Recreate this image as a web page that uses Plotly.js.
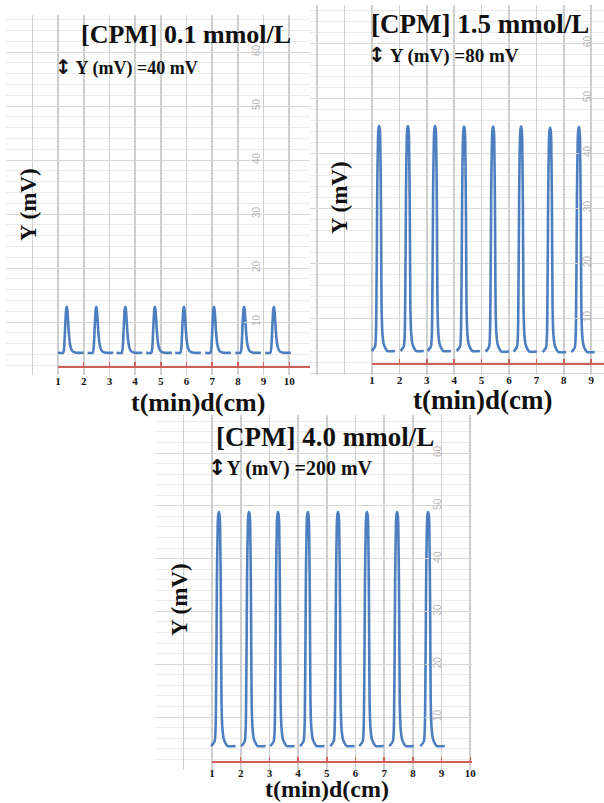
<!DOCTYPE html>
<html>
<head>
<meta charset="utf-8">
<script src="https://cdn.plot.ly/plotly-3.0.1.min.js"></script>
<style>html,body{margin:0;padding:0;background:#fff;}#chart{width:604px;height:803px;}</style>
</head>
<body>
<div id="chart"></div>
<script>
// ---------------- DATA ----------------
// x tick labels (t(min) / d(cm)) of each recorder strip
const xTicks1 = [1, 2, 3, 4, 5, 6, 7, 8, 9, 10];
const xTicks2 = [1, 2, 3, 4, 5, 6, 7, 8, 9];
const xTicks3 = [1, 2, 3, 4, 5, 6, 7, 8, 9, 10];
// grey scale printed on the chart paper
const paperScaleVals = [10, 20, 30, 40, 50, 60];

// [CPM] 0.1 mmol/L
const peakX1 = [1.34, 2.49, 3.62, 4.77, 5.90, 7.07, 8.24, 9.40];
const peakTop1 = [12.8, 12.8, 12.8, 12.8, 12.8, 12.8, 12.8, 12.8];
const peakBase1 = [4.3, 4.3, 4.3, 4.3, 4.3, 4.3, 4.3, 4.3];
// [CPM] 1.5 mmol/L
const peakX2 = [1.26, 2.31, 3.30, 4.36, 5.42, 6.44, 7.50, 8.55];
const peakTop2 = [44.9, 44.9, 44.9, 44.8, 44.8, 44.8, 44.6, 44.7];
const peakBase2 = [4.0, 4.0, 4.0, 4.0, 3.9, 3.9, 3.8, 3.8];
// [CPM] 4.0 mmol/L
const peakX3 = [1.24, 2.29, 3.30, 4.34, 5.39, 6.40, 7.45, 8.53];
const peakTop3 = [48.8, 48.8, 48.8, 48.8, 48.8, 48.8, 48.8, 48.8];
const peakBase3 = [4.5, 4.5, 4.5, 4.5, 4.5, 4.5, 4.5, 4.5];

// peak shape (offset from apex, fraction of height)
const profOffA = [-0.34, -0.14, -0.10, -0.07, -0.04, -0.02, 0, 0.02, 0.05, 0.08, 0.12, 0.17, 0.23, 0.30, 0.38, 0.66];
const profShpA = [0, 0, 0.12, 0.45, 0.80, 0.96, 1, 0.95, 0.72, 0.45, 0.22, 0.09, 0.03, 0.01, 0, 0];
const profOffB = [-0.27, -0.15, -0.10, -0.07, -0.04, -0.02, 0, 0.02, 0.04, 0.07, 0.09, 0.12, 0.17, 0.24, 0.30, 0.58];
const profShpB = [0, 0.02, 0.2, 0.7, 0.95, 0.99, 1, 0.99, 0.95, 0.6, 0.2, 0.08, 0.03, 0.01, 0, 0];

// ---------------- BUILD ----------------
function buildPeaks(px, top, base, off, shp) {
  const xs = [], ys = [];
  for (let i = 0; i < px.length; i++) {
    for (let j = 0; j < off.length; j++) {
      xs.push(px[i] + off[j]);
      ys.push(base[i] + (top[i] - base[i]) * shp[j]);
    }
    xs.push(null); ys.push(null);
  }
  return {x: xs, y: ys};
}

const W = 604, H = 803;
const fx = p => p / W;
const fy = p => 1 - p / H;
const serif = '"Liberation Serif", "Times New Roman", serif';
const blue = '#4d7fc0';
const red = '#cf5f5a';

const p1 = buildPeaks(peakX1, peakTop1, peakBase1, profOffA, profShpA);
const p2 = buildPeaks(peakX2, peakTop2, peakBase2, profOffB, profShpB);
const p3 = buildPeaks(peakX3, peakTop3, peakBase3, profOffB, profShpB);

const lineStyle = {color: blue, width: 2.6, shape: 'spline', smoothing: 0.6};
const empty = (xa, ya) => ({x: [], y: [], xaxis: xa, yaxis: ya, mode: 'lines', hoverinfo: 'skip'});
const traces = [
  // empty traces that register the red time axes and the grey paper scales
  empty('x2', 'y7'), empty('x7', 'y2'),
  empty('x4', 'y8'), empty('x8', 'y4'),
  empty('x6', 'y9'), empty('x9', 'y6'),
  {x: p1.x, y: p1.y, xaxis: 'x', yaxis: 'y', mode: 'lines', line: lineStyle, connectgaps: false, hoverinfo: 'skip'},
  {x: p2.x, y: p2.y, xaxis: 'x3', yaxis: 'y3', mode: 'lines', line: lineStyle, connectgaps: false, hoverinfo: 'skip'},
  {x: p3.x, y: p3.y, xaxis: 'x5', yaxis: 'y5', mode: 'lines', line: lineStyle, connectgaps: false, hoverinfo: 'skip'}
];

function gridX(domain, range, anchor) {
  return {domain: domain, range: range, anchor: anchor, showgrid: true, dtick: 1, tick0: 0,
    gridcolor: '#cfcfcf', gridwidth: 1.6, showticklabels: false, ticks: '', zeroline: false,
    showline: false, fixedrange: true};
}
function gridY(domain, range, anchor) {
  return {domain: domain, range: range, anchor: anchor, showgrid: true, dtick: 10, tick0: 0,
    gridcolor: '#d8d8d8', gridwidth: 1, showticklabels: false, ticks: '', zeroline: false,
    showline: false, fixedrange: true,
    minor: {dtick: 2, showgrid: true, gridcolor: '#ebebeb', gridwidth: 1}};
}
function hidden(domain, range) {
  return {domain: domain, range: range, visible: false, showgrid: false, zeroline: false, fixedrange: true};
}
function redX(domain, range, pos, vals, standoff) {
  return {domain: domain, range: range, anchor: 'free', position: pos, showline: true,
    linecolor: red, linewidth: 2, ticks: 'inside', ticklen: 4, tickwidth: 1.5, tickcolor: red,
    tickmode: 'array', tickvals: vals, ticktext: vals.map(String), showgrid: false, zeroline: false,
    tickfont: {family: serif, size: 11, color: '#111', weight: 'bold'}, ticklabelstandoff: standoff, fixedrange: true};
}
function scaleY(domain, range, pos) {
  return {domain: domain, anchor: 'free', position: pos, side: 'right', range: range,
    tickmode: 'array', tickvals: paperScaleVals, ticktext: paperScaleVals.map(String), tickangle: -90,
    tickfont: {family: 'Arial, sans-serif', size: 10, color: '#b5b5b5'}, ticks: 'outside', ticklen: 4,
    tickcolor: '#cfcfcf', showgrid: false, showline: false, zeroline: false, fixedrange: true};
}

const r1x = [(6 - 32.3) / 25.7, (310 - 32.3) / 25.7];
const r1y = [(376 - 375) / 5.4, (376 - 15) / 5.4];
const r2x = [(310 - 344.6) / 27.4, (604 - 344.6) / 27.4];
const r2y = [(373 - 375) / 5.5, (373 - 5) / 5.5];
const r3x = [(155 - 183.3) / 28.7, (472 - 183.3) / 28.7];
const r3y = [(769.8 - 770) / 5.28, (769.8 - 415) / 5.28];
const d1x = [fx(6), fx(310)], d1y = [fy(375), fy(15)];
const d2x = [fx(310), fx(604)], d2y = [fy(375), fy(5)];
const d3x = [fx(155), fx(472)], d3y = [fy(770), fy(415)];

const ann = [];
function txt(text, x, y, size, opts) {
  ann.push(Object.assign({text: text, xref: 'paper', yref: 'paper', x: fx(x), y: fy(y),
    showarrow: false, xanchor: 'center', yanchor: 'middle',
    font: {family: serif, size: size, color: '#111', weight: 'bold'}}, opts || {}));
}
const arrow = s => '<span style="font-size:' + s + 'px;font-family:DejaVu Sans">↕</span>';
// panel 1
txt('[CPM] 0.1 mmol/L', 186, 35, 26);
txt(arrow(20) + ' Y (mV) =40 mV', 53, 67, 18, {xanchor: 'left'});
txt('Y (mV)', 28, 205, 23, {textangle: -90});
txt('t(min)d(cm)', 198, 402, 26);
// panel 2
txt('[CPM] 1.5 mmol/L', 480, 24, 27);
txt(arrow(21) + ' Y (mV) =80 mV', 366, 55, 19, {xanchor: 'left'});
txt('Y (mV)', 339, 198, 23, {textangle: -90});
txt('t(min)d(cm)', 482, 400, 27);
// panel 3
txt('[CPM] 4.0 mmol/L', 325, 437, 27);
txt(arrow(22) + 'Y (mV) =200 mV', 206, 467, 20, {xanchor: 'left'});
txt('Y (mV)', 179, 600, 23, {textangle: -90});
txt('t(min)d(cm)', 327, 789, 24);

const layout = {
  width: W, height: H, margin: {l: 0, r: 0, t: 0, b: 0},
  paper_bgcolor: '#ffffff', plot_bgcolor: 'rgba(0,0,0,0)', showlegend: false,
  // panel 1
  xaxis: gridX(d1x, r1x, 'y'),
  yaxis: gridY(d1y, r1y, 'x'),
  xaxis2: redX([fx(58), fx(310)], [1, r1x[1]], fy(367), xTicks1, 4),
  yaxis2: scaleY(d1y, r1y, fx(243)),
  xaxis7: hidden(d1x, r1x),
  yaxis7: hidden(d1y, r1y),
  // panel 2
  xaxis3: gridX(d2x, r2x, 'y3'),
  yaxis3: gridY(d2y, r2y, 'x3'),
  xaxis4: redX([fx(372), fx(604)], [1, r2x[1]], fy(364), xTicks2, 6),
  yaxis4: scaleY(d2y, r2y, fx(574)),
  xaxis8: hidden(d2x, r2x),
  yaxis8: hidden(d2y, r2y),
  // panel 3
  xaxis5: gridX(d3x, r3x, 'y5'),
  yaxis5: gridY(d3y, r3y, 'x5'),
  xaxis6: redX([fx(212), fx(472)], [1, r3x[1]], fy(762), xTicks3, 1),
  yaxis6: scaleY(d3y, r3y, fx(424)),
  xaxis9: hidden(d3x, r3x),
  yaxis9: hidden(d3y, r3y),
  annotations: ann
};

Plotly.newPlot('chart', traces, layout, {staticPlot: true, displayModeBar: false});
</script>
</body>
</html>
